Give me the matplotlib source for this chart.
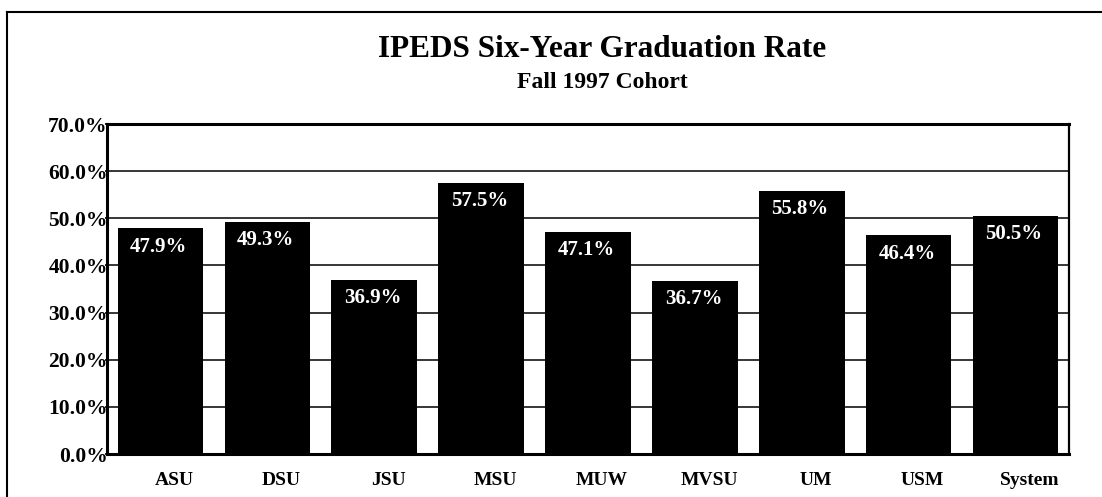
#!/bin/env python3
# coding: utf-8

import matplotlib
matplotlib.use('Agg')
import matplotlib.pyplot as plt
import matplotlib.transforms as mtransforms
from matplotlib.lines import Line2D

# Data
schools = ['ASU', 'DSU', 'JSU', 'MSU', 'MUW', 'MVSU', 'UM', 'USM', 'System']
rates = [47.9, 49.3, 36.9, 57.5, 47.1, 36.7, 55.8, 46.4, 50.5]
yticks = [0, 10, 20, 30, 40, 50, 60, 70]

plt.rcParams['font.family'] = ['Liberation Serif', 'DejaVu Serif']
plt.rcParams['font.weight'] = 'bold'

fig = plt.figure(figsize=(11.02, 4.97), dpi=100)
ax = fig.add_axes([0.0971, 0.0865, 0.9701 - 0.0971, 0.7505 - 0.0865])

x = range(len(schools))
width = 0.8
ax.bar(x, rates, width=width, color='black', zorder=3)

# value labels, white, tucked inside the top-left of each bar
for i, v in enumerate(rates):
    ax.annotate('{:.1f}%'.format(v), xy=(i - width / 2, v),
                xytext=(9, -6), textcoords='offset points',
                ha='left', va='top', color='white',
                fontsize=15, fontweight='bold', zorder=4)

ax.set_xlim(-0.5, len(schools) - 0.5)
ax.set_ylim(0, 70)
ax.set_yticks(yticks)
ax.set_yticklabels(['{:.1f}%'.format(t) for t in yticks],
                   fontsize=15.5, fontweight='bold')
ax.set_xticks(list(x))
ax.set_xticklabels(schools, fontsize=14, fontweight='bold')

ax.yaxis.grid(True, color='black', linewidth=1.1, zorder=0)
ax.set_axisbelow(True)
ax.tick_params(axis='y', length=3, width=1.2, direction='inout', pad=-2)
ax.tick_params(axis='x', length=0, pad=13)

# shift category labels a little to the right, as in the original
offset = mtransforms.ScaledTranslation(14 / 100, 0, fig.dpi_scale_trans)
for lbl in ax.get_xticklabels():
    lbl.set_transform(lbl.get_transform() + offset)

for side, lw in [('top', 2.2), ('left', 2.2), ('bottom', 2.2), ('right', 1.6)]:
    ax.spines[side].set_linewidth(lw)
    ax.spines[side].set_color('black')

fig.text(0.5463, 0.8847, 'IPEDS Six-Year Graduation Rate', ha='center',
         va='baseline', fontsize=22.5, fontweight='bold')
fig.text(0.5463, 0.8223, 'Fall 1997 Cohort', ha='center',
         va='baseline', fontsize=17, fontweight='bold')

# outer frame (left and top edges only)
fig.add_artist(Line2D([7 / 1102, 7 / 1102], [0, 1 - 12 / 497],
                      transform=fig.transFigure, color='black', linewidth=1.5))
fig.add_artist(Line2D([7 / 1102, 1], [1 - 12 / 497, 1 - 12 / 497],
                      transform=fig.transFigure, color='black', linewidth=1.5))

fig.savefig('out.png', dpi=100)
